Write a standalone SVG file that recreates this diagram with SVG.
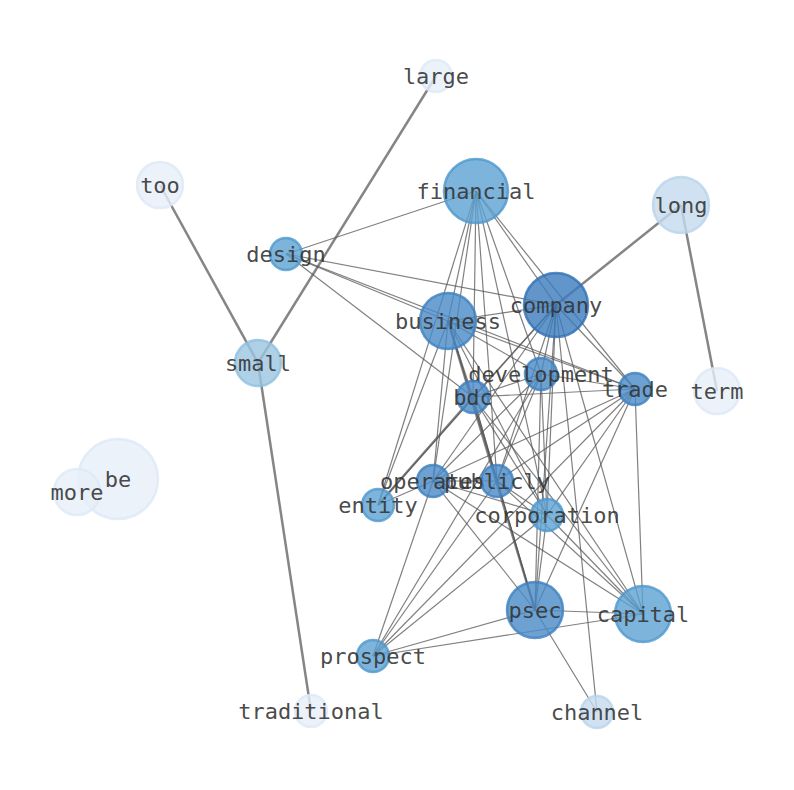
<svg xmlns="http://www.w3.org/2000/svg" width="794" height="790" viewBox="0 0 794 790">
<style>
.e{stroke:#555;stroke-width:1.2;stroke-opacity:0.75;fill:none}
.h{stroke:#666;stroke-width:2.5;stroke-opacity:0.8;fill:none}
circle{stroke-width:2.5;fill-opacity:0.8;stroke-opacity:0.8}
.c0{fill:#e6eff9;stroke:#dde9f6}
.c1{fill:#c4daee;stroke:#b9d3eb}
.c2{fill:#9ac6e2;stroke:#8ebfe0}
.c3{fill:#5ba1d3;stroke:#4d97cd}
.c4{fill:#4889c6;stroke:#3c7fc0}
.c5{fill:#3b7abd;stroke:#2f6fb3}
text{font-family:"DejaVu Sans Mono",monospace;font-size:22px;fill:#333;fill-opacity:0.9;text-anchor:middle;dominant-baseline:central}
</style>
<rect width="794" height="790" fill="#fff"/>
<g id="edges">
<line class="h" x1="160" y1="185" x2="258" y2="363"/>
<line class="h" x1="436" y1="76" x2="258" y2="363"/>
<line class="h" x1="258" y1="363" x2="311" y2="711"/>
<line class="h" x1="681" y1="205" x2="556" y2="305"/>
<line class="h" x1="681" y1="205" x2="717" y2="391"/>
<line class="h" x1="473" y1="397" x2="378" y2="505"/>
<line class="h" x1="448" y1="321" x2="535" y2="610"/>
<line class="e" x1="476" y1="191" x2="286" y2="254"/>
<line class="e" x1="476" y1="191" x2="448" y2="321"/>
<line class="e" x1="476" y1="191" x2="556" y2="305"/>
<line class="e" x1="476" y1="191" x2="541" y2="374"/>
<line class="e" x1="476" y1="191" x2="635" y2="389"/>
<line class="e" x1="476" y1="191" x2="473" y2="397"/>
<line class="e" x1="476" y1="191" x2="433" y2="481"/>
<line class="e" x1="476" y1="191" x2="378" y2="505"/>
<line class="e" x1="476" y1="191" x2="497" y2="481"/>
<line class="e" x1="476" y1="191" x2="547" y2="515"/>
<line class="e" x1="286" y1="254" x2="556" y2="305"/>
<line class="e" x1="286" y1="254" x2="635" y2="389"/>
<line class="e" x1="286" y1="254" x2="473" y2="397"/>
<line class="e" x1="286" y1="254" x2="448" y2="321"/>
<line class="e" x1="556" y1="305" x2="448" y2="321"/>
<line class="e" x1="556" y1="305" x2="541" y2="374"/>
<line class="e" x1="556" y1="305" x2="635" y2="389"/>
<line class="e" x1="556" y1="305" x2="473" y2="397"/>
<line class="e" x1="556" y1="305" x2="433" y2="481"/>
<line class="e" x1="556" y1="305" x2="497" y2="481"/>
<line class="e" x1="556" y1="305" x2="547" y2="515"/>
<line class="e" x1="556" y1="305" x2="535" y2="610"/>
<line class="e" x1="556" y1="305" x2="643" y2="614"/>
<line class="e" x1="556" y1="305" x2="597" y2="712"/>
<line class="e" x1="556" y1="305" x2="378" y2="505"/>
<line class="e" x1="448" y1="321" x2="541" y2="374"/>
<line class="e" x1="448" y1="321" x2="635" y2="389"/>
<line class="e" x1="448" y1="321" x2="473" y2="397"/>
<line class="e" x1="448" y1="321" x2="433" y2="481"/>
<line class="e" x1="448" y1="321" x2="497" y2="481"/>
<line class="e" x1="448" y1="321" x2="378" y2="505"/>
<line class="e" x1="448" y1="321" x2="643" y2="614"/>
<line class="e" x1="448" y1="321" x2="547" y2="515"/>
<line class="e" x1="541" y1="374" x2="635" y2="389"/>
<line class="e" x1="541" y1="374" x2="473" y2="397"/>
<line class="e" x1="541" y1="374" x2="433" y2="481"/>
<line class="e" x1="541" y1="374" x2="497" y2="481"/>
<line class="e" x1="541" y1="374" x2="547" y2="515"/>
<line class="e" x1="541" y1="374" x2="535" y2="610"/>
<line class="e" x1="541" y1="374" x2="373" y2="656"/>
<line class="e" x1="635" y1="389" x2="473" y2="397"/>
<line class="e" x1="635" y1="389" x2="433" y2="481"/>
<line class="e" x1="635" y1="389" x2="497" y2="481"/>
<line class="e" x1="635" y1="389" x2="547" y2="515"/>
<line class="e" x1="635" y1="389" x2="643" y2="614"/>
<line class="e" x1="635" y1="389" x2="535" y2="610"/>
<line class="e" x1="635" y1="389" x2="373" y2="656"/>
<line class="e" x1="473" y1="397" x2="497" y2="481"/>
<line class="e" x1="473" y1="397" x2="643" y2="614"/>
<line class="e" x1="473" y1="397" x2="547" y2="515"/>
<line class="e" x1="473" y1="397" x2="535" y2="610"/>
<line class="e" x1="433" y1="481" x2="497" y2="481"/>
<line class="e" x1="433" y1="481" x2="547" y2="515"/>
<line class="e" x1="433" y1="481" x2="643" y2="614"/>
<line class="e" x1="433" y1="481" x2="535" y2="610"/>
<line class="e" x1="433" y1="481" x2="373" y2="656"/>
<line class="e" x1="433" y1="481" x2="378" y2="505"/>
<line class="e" x1="497" y1="481" x2="547" y2="515"/>
<line class="e" x1="497" y1="481" x2="643" y2="614"/>
<line class="e" x1="497" y1="481" x2="535" y2="610"/>
<line class="e" x1="497" y1="481" x2="373" y2="656"/>
<line class="e" x1="547" y1="515" x2="643" y2="614"/>
<line class="e" x1="547" y1="515" x2="535" y2="610"/>
<line class="e" x1="547" y1="515" x2="373" y2="656"/>
<line class="e" x1="535" y1="610" x2="643" y2="614"/>
<line class="e" x1="535" y1="610" x2="373" y2="656"/>
<line class="e" x1="535" y1="610" x2="597" y2="712"/>
<line class="e" x1="643" y1="614" x2="373" y2="656"/>
</g>
<g id="n-large"><circle class="c0" cx="436" cy="76" r="16"/><text x="436" y="76">large</text></g>
<g id="n-too"><circle class="c0" cx="160" cy="185" r="23"/><text x="160" y="185">too</text></g>
<g id="n-financial"><circle class="c3" cx="476" cy="191" r="32"/><text x="476" y="191">financial</text></g>
<g id="n-long"><circle class="c1" cx="681" cy="205" r="28"/><text x="681" y="205">long</text></g>
<g id="n-design"><circle class="c3" cx="286" cy="254" r="16"/><text x="286" y="254">design</text></g>
<g id="n-company"><circle class="c5" cx="556" cy="305" r="32"/><text x="556" y="305">company</text></g>
<g id="n-business"><circle class="c4" cx="448" cy="321" r="28"/><text x="448" y="321">business</text></g>
<g id="n-small"><circle class="c2" cx="258" cy="363" r="23"/><text x="258" y="363">small</text></g>
<g id="n-development"><circle class="c4" cx="541" cy="374" r="16"/><text x="541" y="374">development</text></g>
<g id="n-trade"><circle class="c4" cx="635" cy="389" r="16"/><text x="635" y="389">trade</text></g>
<g id="n-term"><circle class="c0" cx="717" cy="391" r="23"/><text x="717" y="391">term</text></g>
<g id="n-bdc"><circle class="c4" cx="473" cy="397" r="16"/><text x="473" y="397">bdc</text></g>
<g id="n-be"><circle class="c0" cx="118" cy="479" r="40"/><text x="118" y="479">be</text></g>
<g id="n-more"><circle class="c0" cx="77" cy="492" r="23"/><text x="77" y="492">more</text></g>
<g id="n-operates"><circle class="c4" cx="433" cy="481" r="16"/><text x="433" y="481">operates</text></g>
<g id="n-publicly"><circle class="c4" cx="497" cy="481" r="16"/><text x="497" y="481">publicly</text></g>
<g id="n-entity"><circle class="c3" cx="378" cy="505" r="16"/><text x="378" y="505">entity</text></g>
<g id="n-corporation"><circle class="c3" cx="547" cy="515" r="16"/><text x="547" y="515">corporation</text></g>
<g id="n-psec"><circle class="c4" cx="535" cy="610" r="28"/><text x="535" y="610">psec</text></g>
<g id="n-capital"><circle class="c3" cx="643" cy="614" r="28"/><text x="643" y="614">capital</text></g>
<g id="n-prospect"><circle class="c3" cx="373" cy="656" r="16"/><text x="373" y="656">prospect</text></g>
<g id="n-traditional"><circle class="c0" cx="311" cy="711" r="16"/><text x="311" y="711">traditional</text></g>
<g id="n-channel"><circle class="c1" cx="597" cy="712" r="16"/><text x="597" y="712">channel</text></g>
</svg>
